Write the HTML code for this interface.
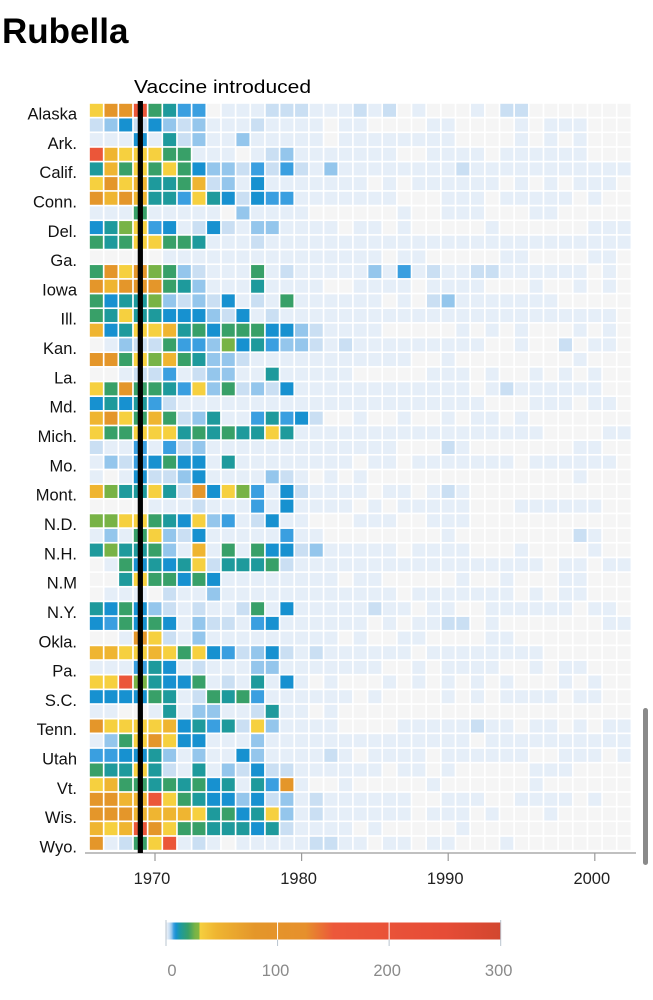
<!DOCTYPE html>
<html><head><meta charset="utf-8"><style>
html,body{margin:0;padding:0;background:#fff;}
svg{display:block;font-family:"Liberation Sans",Arial,sans-serif;}
</style></head><body>
<svg id="chart" width="653" height="1000" viewBox="0 0 653 1000">
<text x="2" y="43" font-size="35" font-weight="bold" fill="#000">Rubella</text>
<g id="cells"></g>
<g id="rowlabels"></g>
<g id="xaxis"></g>
<g id="vaccine"></g>
<g id="legend"></g>
<rect x="643" y="708" width="5" height="157" rx="2.5" fill="#8a8a8a"/>
</svg>
<script>
const years = [1966,1967,1968,1969,1970,1971,1972,1973,1974,1975,1976,1977,1978,1979,1980,1981,1982,1983,1984,1985,1986,1987,1988,1989,1990,1991,1992,1993,1994,1995,1996,1997,1998,1999,2000,2001,2002];
const states = ["Alaska","Ala.","Ark.","Ariz.","Calif.","Colo.","Conn.","D.C.","Del.","Fla.","Ga.","Hawaii","Iowa","Idaho","Ill.","Ind.","Kan.","Ky.","La.","Mass.","Md.","Maine","Mich.","Minn.","Mo.","Miss.","Mont.","N.C.","N.D.","Neb.","N.H.","N.J.","N.M","Nev.","N.Y.","Ohio","Okla.","Ore.","Pa.","R.I.","S.C.","S.D.","Tenn.","Texas","Utah","Va.","Vt.","Wash.","Wis.","W.Va.","Wyo."];
const xTicks = [1970,1980,1990,2000];
const vaccineYear = 1969;
const legendTicks = [0,100,200,300];
const values = [
[30,80,80,170,20,13,7,7,0,1,1,1,3,3,3,1,1,1,3,1,3,0,1,0,0,0,1,0,3,3,0,0,0,0,0,0,0],
[3,5,9,3,9,5,3,5,1,1,1,3,1,1,1,1,0,1,1,0,0,0,0,1,1,0,0,0,0,1,0,1,1,1,0,0,0],
[1,1,1,9,1,13,3,5,1,1,5,1,1,1,1,1,0,1,1,1,1,1,1,1,1,0,0,0,0,1,0,1,0,1,0,0,0],
[170,45,30,30,30,20,20,1,1,1,0,1,3,5,1,1,1,1,1,1,1,0,0,1,1,1,1,0,1,1,1,1,1,1,0,0,0],
[13,45,20,30,20,30,20,9,5,5,3,7,3,7,3,1,5,1,1,1,1,1,1,1,1,3,1,1,1,1,1,1,1,1,1,1,1],
[30,80,30,45,13,13,20,45,3,5,1,9,1,1,1,1,1,1,1,0,1,0,1,1,1,1,1,1,0,1,0,1,0,1,1,1,0],
[80,45,80,45,13,13,7,30,13,9,3,9,7,7,1,1,1,1,1,1,1,0,0,0,1,1,1,0,1,1,1,1,1,0,1,0,0],
[1,1,1,20,1,1,1,1,1,0,5,1,1,1,1,0,0,0,0,0,0,1,0,0,1,1,1,0,0,0,1,1,0,0,0,0,0],
[9,13,26,30,7,9,1,3,9,3,1,5,5,1,1,1,1,0,1,1,0,1,0,0,0,0,0,1,0,0,0,0,0,0,1,1,1],
[20,13,20,30,30,20,20,13,1,1,1,3,1,1,1,1,1,1,1,1,1,1,1,1,1,1,1,1,1,1,1,1,1,1,1,1,1],
[0,0,0,0,0,1,1,1,1,1,1,1,1,1,1,1,1,1,1,1,0,1,1,0,0,0,0,0,1,1,0,0,0,0,1,1,0],
[20,80,30,80,26,20,5,3,1,1,1,20,1,3,1,1,1,1,1,5,1,7,1,3,1,1,3,3,1,1,1,1,1,1,0,1,0],
[80,45,80,80,80,20,13,5,1,1,1,13,1,1,1,1,0,0,1,1,1,1,0,1,1,1,1,0,0,0,1,0,0,1,0,1,0],
[20,9,13,13,26,5,3,5,3,9,1,3,1,20,1,1,1,1,1,1,0,1,0,3,5,1,1,1,1,1,1,1,0,0,0,0,0],
[20,13,30,13,13,9,9,9,5,3,9,1,3,1,1,1,1,1,1,1,1,1,1,1,1,1,1,1,1,1,1,1,1,1,1,1,0],
[45,9,13,30,30,45,13,20,9,20,20,20,9,9,5,3,1,1,1,1,0,0,0,0,0,1,0,1,0,1,0,0,0,1,0,1,0],
[0,1,5,3,3,20,7,7,5,26,9,13,7,5,5,3,1,3,1,1,1,1,1,1,1,1,1,0,0,1,0,0,3,0,1,1,0],
[80,80,20,30,26,45,20,13,5,5,3,1,1,1,1,1,1,1,1,1,1,1,0,0,1,0,0,0,0,0,0,0,0,1,0,0,0],
[0,0,1,3,3,7,1,3,5,5,1,1,13,1,1,1,1,1,0,0,0,0,0,1,1,1,0,1,0,0,1,0,1,0,1,0,0],
[30,20,80,20,20,13,7,30,5,20,3,5,3,9,1,1,1,1,1,1,1,1,1,1,1,1,0,1,3,1,1,1,1,1,1,0,0],
[9,13,9,13,7,3,1,1,1,1,1,1,1,1,1,1,1,1,1,1,1,1,1,1,1,1,1,0,0,0,1,1,1,0,1,1,0],
[45,80,30,20,45,20,3,5,13,1,1,7,13,7,9,3,0,0,1,0,0,1,0,0,1,0,1,1,0,1,0,0,0,0,0,0,0],
[30,20,20,30,30,30,13,20,13,20,13,13,30,13,1,1,1,1,1,1,1,1,1,1,1,1,1,1,1,1,1,0,0,0,0,1,1],
[3,1,1,7,1,7,3,5,1,1,1,1,1,1,1,1,1,1,1,1,1,0,0,0,3,1,0,0,0,0,0,0,0,1,1,0,0],
[1,5,3,7,9,20,9,9,1,13,1,1,1,1,1,1,1,1,0,1,1,0,1,1,1,1,1,1,1,0,1,1,1,1,1,1,0],
[1,0,1,9,3,3,5,9,1,1,1,1,5,3,1,0,1,0,1,0,0,0,0,0,0,0,0,0,0,0,0,0,0,1,0,0,0],
[45,26,13,13,30,13,3,80,9,30,26,7,1,9,3,1,1,1,1,0,1,1,0,1,3,1,0,0,0,0,0,0,0,0,0,0,0],
[0,0,0,0,1,1,1,3,1,1,1,7,1,9,1,1,1,1,0,1,0,1,1,1,1,1,0,0,0,1,1,1,1,1,1,0,0],
[26,26,30,30,20,13,9,30,5,7,1,3,9,1,1,0,0,0,1,1,1,0,0,1,1,1,0,0,0,0,0,0,0,0,0,0,0],
[1,5,1,20,30,5,3,9,1,1,1,1,1,7,1,1,0,0,0,0,0,0,0,0,1,0,0,0,0,0,0,0,0,3,1,0,0],
[13,26,13,13,20,5,1,45,1,20,1,20,9,9,3,5,1,1,1,1,1,0,1,1,1,1,0,0,0,1,0,0,0,0,1,0,0],
[0,1,20,9,13,9,13,30,3,13,13,13,20,3,1,1,1,1,1,1,1,1,1,1,1,1,1,1,1,1,1,0,1,1,0,1,1],
[0,0,13,30,20,20,9,20,9,1,1,1,1,1,1,1,1,0,1,1,0,0,0,0,0,1,0,0,1,0,0,0,1,1,0,0,0],
[0,1,1,1,0,3,1,1,5,1,1,1,1,1,1,1,1,1,1,1,1,0,1,1,1,1,1,1,1,0,1,0,1,1,0,0,0],
[13,9,20,9,5,3,1,3,1,1,3,20,1,9,1,1,1,1,1,3,1,1,0,1,1,0,0,1,1,1,1,1,1,0,1,1,0],
[9,7,20,9,20,9,1,5,3,3,1,7,9,1,1,1,1,1,1,0,1,0,1,1,3,3,0,1,0,0,0,0,0,0,0,1,1],
[0,0,1,80,30,3,1,5,1,1,1,1,1,1,1,1,1,0,1,0,0,1,1,0,0,0,0,1,1,0,0,0,0,0,0,0,0],
[45,45,30,30,45,30,20,30,9,7,3,5,9,3,1,3,1,1,1,1,1,1,0,1,1,1,1,1,1,1,1,0,0,0,0,0,0],
[1,1,1,7,13,9,1,3,1,1,1,5,5,1,1,1,1,1,1,1,0,0,1,0,1,1,1,1,0,0,1,0,1,1,0,0,0],
[30,30,170,26,13,9,9,20,1,3,1,13,1,9,1,0,1,0,0,0,1,0,1,0,1,0,1,0,1,0,0,0,1,0,1,0,0],
[9,9,9,9,20,13,1,3,20,13,20,7,1,1,1,1,1,1,0,1,0,0,0,0,1,0,1,0,1,1,1,1,0,1,1,0,0],
[1,1,0,0,1,13,1,5,5,1,1,3,13,1,1,0,1,0,0,0,0,0,0,0,0,0,0,0,0,0,0,0,0,0,0,0,0],
[80,30,30,30,30,45,9,13,7,13,3,30,5,1,1,1,1,0,0,0,0,1,1,1,1,1,3,1,1,0,1,1,0,1,0,1,1],
[1,5,20,30,80,30,9,9,1,1,1,5,1,1,1,1,1,1,1,1,1,1,1,1,1,1,0,1,1,1,1,1,1,1,1,1,1],
[7,7,9,9,13,5,1,5,1,1,9,5,1,1,1,1,3,1,0,1,1,1,1,0,1,1,1,1,1,1,0,0,1,1,1,0,1],
[20,13,13,30,13,3,1,13,1,5,3,9,3,3,1,1,1,1,1,1,0,1,1,0,1,0,0,0,0,0,1,1,1,0,0,0,0],
[30,45,20,20,13,20,13,20,9,13,1,13,7,80,1,0,0,1,0,0,0,0,0,1,0,0,0,0,0,0,1,0,0,0,0,0,0],
[80,80,45,45,170,30,20,13,9,9,5,9,3,5,1,3,1,1,1,1,1,1,0,0,1,1,1,0,0,1,1,1,1,0,1,0,0],
[80,80,80,45,45,45,45,30,13,20,9,13,30,5,1,3,1,1,1,1,1,1,0,1,1,1,0,1,0,0,0,1,0,0,0,0,0],
[45,30,45,170,80,30,20,20,13,13,13,9,13,3,1,1,1,1,0,1,0,0,0,0,0,1,0,0,0,0,0,0,0,0,0,0,0],
[80,1,3,20,30,170,1,3,1,0,1,1,1,1,1,3,3,1,1,0,1,1,0,1,1,0,0,0,1,0,0,0,0,0,0,0,0]
];

const NS = "http://www.w3.org/2000/svg";
const X0 = 155, PX_PER_YEAR = 14.66, Y0 = 103, ROW_H = 14.66;
function xScale(y){ return X0 + (y - 1970) * PX_PER_YEAR; }
function yScale(i){ return Y0 + i * ROW_H; }
const stops = [[0,"#f5f5f5"],[1,"#e5eef8"],[3,"#cadff3"],[5,"#94c6ec"],[7,"#3a9fe0"],[9,"#1791d0"],[13,"#1e9a9c"],[20,"#38a068"],[26,"#78b346"],[29.9,"#86b840"],[30,"#f6d03f"],[45,"#efb531"],[80,"#e4962a"],[125,"#e6902c"],[150,"#ec583a"],[250,"#e64c36"],[300,"#d2472f"]];
function hex(c){return [1,3,5].map(i=>parseInt(c.substr(i,2),16));}
function color(v){
  if(v<=stops[0][0]) return stops[0][1];
  for(let k=1;k<stops.length;k++){
    if(v<=stops[k][0]){
      const a=stops[k-1],b=stops[k],t=(v-a[0])/(b[0]-a[0]);
      const ca=hex(a[1]),cb=hex(b[1]);
      return "rgb("+ca.map((c,i)=>Math.round(c+(cb[i]-c)*t)).join(",")+")";
    }
  }
  return stops[stops.length-1][1];
}
function mk(tag, attrs, parent){
  const e=document.createElementNS(NS,tag);
  for(const k in attrs) e.setAttribute(k,attrs[k]);
  parent.appendChild(e); return e;
}
const gCells=document.getElementById("cells");
values.forEach((row,i)=>{
  row.forEach((v,j)=>{
    const r=mk("rect",{x:(xScale(years[j])-PX_PER_YEAR/2+0.8).toFixed(2),y:(yScale(i)+0.8).toFixed(2),width:13,height:13,fill:color(v)},gCells);
    
    
  });
});
const gLab=document.getElementById("rowlabels");
states.forEach((s,i)=>{
  if(i%2!==0) return;
  const t=mk("text",{x:77,y:(yScale(i)+16.5).toFixed(1),"text-anchor":"end","font-size":"16.5",fill:"#111"},gLab);
  t.textContent=s;
  
  
});
const gX=document.getElementById("xaxis");
const axisY=853;
const al=mk("line",{x1:85,x2:636,y1:axisY,y2:axisY,stroke:"#9a9a9a","stroke-width":1.2},gX);


xTicks.forEach(yr=>{
  const x=xScale(yr);
  const tl=mk("line",{x1:x,x2:x,y1:axisY,y2:axisY+8,stroke:"#9a9a9a","stroke-width":1.2},gX);
  
  
  const tt=mk("text",{x:x-3,y:884,"text-anchor":"middle","font-size":"16.5",fill:"#222"},gX);
  tt.textContent=yr;
  
  
});
const gV=document.getElementById("vaccine");
const vx=xScale(vaccineYear);
const vl=mk("rect",{x:vx-2.6,y:101,width:5.2,height:752,fill:"#000"},gV);


const vt=mk("text",{x:134,y:93,"font-size":"18",fill:"#000",textLength:"177",lengthAdjust:"spacingAndGlyphs"},gV);
vt.textContent="Vaccine introduced";


const gL=document.getElementById("legend");
const LX0=166, LPX=(500.7-166)/300;
function lx(v){return LX0+v*LPX;}
const defs=mk("defs",{},gL);
const grad=mk("linearGradient",{id:"lg",x1:"0",x2:"1",y1:"0",y2:"0"},defs);
stops.forEach(s=>{ mk("stop",{offset:(s[0]/300).toFixed(4),"stop-color":s[1]},grad); });
const lb=mk("rect",{x:LX0,y:922.5,width:lx(300)-LX0,height:17,fill:"url(#lg)"},gL);


legendTicks.forEach(v=>{
  const x=lx(v);
  const inner=(v>0 && v<300);
  const ln=mk("line",{x1:x,x2:x,y1:inner?922.5:920,y2:946,stroke:inner?"#ffffff":"#b9c4cf","stroke-width":1},gL);
  
  
  if(inner){
    const ln2=mk("line",{x1:x,x2:x,y1:939.5,y2:946,stroke:"#b9c4cf","stroke-width":1},gL);
    
    
  }
  const t=mk("text",{x:v===0?x+6:x-2,y:976,"text-anchor":"middle","font-size":"16.5",fill:"#8a8a8a"},gL);
  t.textContent=v;
  
  
});
</script>
</body></html>
